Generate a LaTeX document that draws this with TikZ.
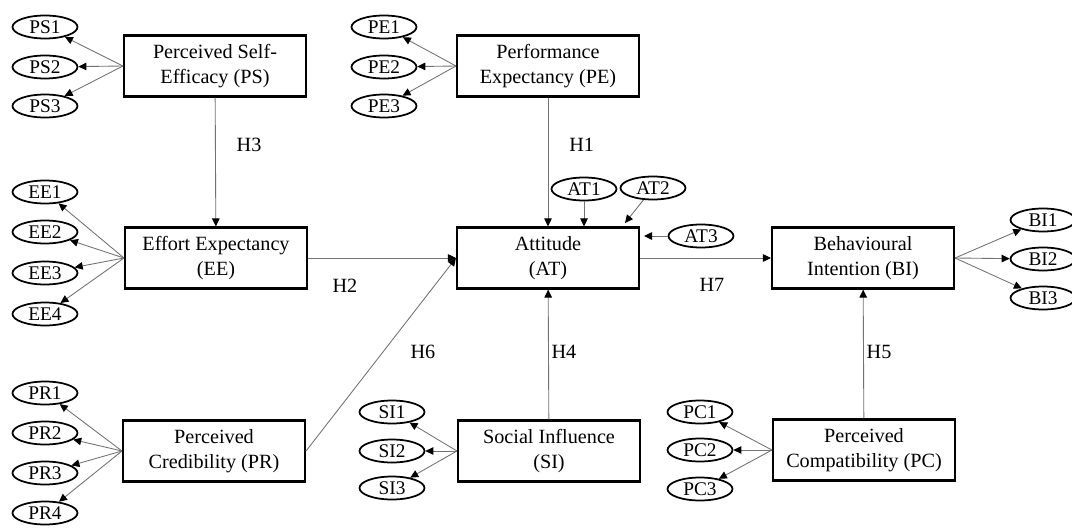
\documentclass[tikz,border=0pt]{standalone}
\usepackage{fontspec}
\setmainfont{Liberation Serif}
\usepackage{tikz}
\usetikzlibrary{arrows.meta,positioning,shapes.geometric,calc}

\begin{document}
\begin{tikzpicture}[x=0.02cm,y=-0.02cm,>={Triangle[length=1.6mm,width=1.5mm,color=black]},
  cons/.style={draw,line width=1.2pt,minimum width=3.64cm,minimum height=1.22cm,
    inner sep=1pt,align=center,font=\fontsize{11.5}{14}\selectfont},
  ind/.style={draw,ellipse,line width=1pt,minimum width=1.3cm,minimum height=0.46cm,
    inner sep=0pt,text height=7.2pt,text depth=0pt,font=\fontsize{11}{12}\selectfont},
  path/.style={->,draw=black!55,line width=0.5pt},
  hyp/.style={font=\fontsize{11.5}{13}\selectfont}]
  \useasboundingbox (0,0) rectangle (1072,531);
  % constructs
  \node[cons] (ps) at (215,66)  {Perceived Self-\\Efficacy (PS)};
  \node[cons] (pe) at (548,66)  {Performance\\Expectancy (PE)};
  \node[cons] (ee) at (216,258) {Effort Expectancy\\(EE)};
  \node[cons] (at) at (548,258) {Attitude\\(AT)};
  \node[cons] (bi) at (863,258) {Behavioural\\Intention (BI)};
  \node[cons] (pr) at (214,451) {Perceived\\Credibility (PR)};
  \node[cons] (si) at (549,451) {Social Influence\\(SI)};
  \node[cons] (pc) at (864,450) {Perceived\\Compatibility (PC)};
  % indicators
  \node[ind] (ps1) at (45,27)   {PS1};
  \node[ind] (ps2) at (45,67)   {PS2};
  \node[ind] (ps3) at (45,106)  {PS3};
  \node[ind] (pe1) at (384,27)  {PE1};
  \node[ind] (pe2) at (384,67)  {PE2};
  \node[ind] (pe3) at (384,106) {PE3};
  \node[ind] (ee1) at (45,192)  {EE1};
  \node[ind] (ee2) at (45,232)  {EE2};
  \node[ind] (ee3) at (45,273)  {EE3};
  \node[ind] (ee4) at (45,314)  {EE4};
  \node[ind] (pr1) at (45,393)  {PR1};
  \node[ind] (pr2) at (45,433)  {PR2};
  \node[ind] (pr3) at (45,473)  {PR3};
  \node[ind] (pr4) at (45,513)  {PR4};
  \node[ind] (si1) at (392,412) {SI1};
  \node[ind] (si2) at (392,451) {SI2};
  \node[ind] (si3) at (392,488) {SI3};
  \node[ind] (pc1) at (700,412) {PC1};
  \node[ind] (pc2) at (700,450) {PC2};
  \node[ind] (pc3) at (700,489) {PC3};
  \node[ind] (bi1) at (1043,220) {BI1};
  \node[ind] (bi2) at (1043,259) {BI2};
  \node[ind] (bi3) at (1043,298) {BI3};
  \node[ind] (at1) at (584,189) {AT1};
  \node[ind] (at2) at (653,188) {AT2};
  \node[ind] (at3) at (701,236) {AT3};
  \coordinate (at2e) at (625,223);
  \coordinate (at3e) at (644,236);
  % loadings
  \draw[path] (ps.west) -- (ps1);
  \draw[path] (ps.west) -- (ps2);
  \draw[path] (ps.west) -- (ps3);
  \draw[path] (pe.west) -- (pe1);
  \draw[path] (pe.west) -- (pe2);
  \draw[path] (pe.west) -- (pe3);
  \draw[path] (ee.west) -- (ee1);
  \draw[path] (ee.west) -- (ee2);
  \draw[path] (ee.west) -- (ee3);
  \draw[path] (ee.west) -- (ee4);
  \draw[path] (pr.west) -- (pr1);
  \draw[path] (pr.west) -- (pr2);
  \draw[path] (pr.west) -- (pr3);
  \draw[path] (pr.west) -- (pr4);
  \draw[path] (si.west) -- (si1);
  \draw[path] (si.west) -- (si2);
  \draw[path] (si.west) -- (si3);
  \draw[path] (pc.west) -- (pc1);
  \draw[path] (pc.west) -- (pc2);
  \draw[path] (pc.west) -- (pc3);
  \draw[path] (bi.east) -- (bi1);
  \draw[path] (bi.east) -- (bi2);
  \draw[path] (bi.east) -- (bi3);
  \draw[path] (at1) -- (at1.south |- at.north);
  \draw[path] (at2) -- (at2e);
  \draw[path] (at3) -- (at3e);
  % hypotheses
  \draw[path] (ps) -- node[hyp,pos=0.37,right=3mm]{H3} (ee);
  \draw[path] (pe) -- node[hyp,pos=0.37,right=3mm]{H1} (at);
  \draw[path] (ee) -- (at);
  \draw[path] (pr.east) -- (at.west);
  \draw[path] (si) -- (at);
  \draw[path] (at) -- (bi);
  \draw[path] (pc) -- (bi);
  \node[hyp] (h2) at (345,286) {H2};
  \node[hyp] (h6) at (423,352) {H6};
  \node[hyp] (h4) at (564,352) {H4};
  \node[hyp] (h7) at (712,285) {H7};
  \node[hyp] (h5) at (879,352) {H5};
\end{tikzpicture}
\end{document}
